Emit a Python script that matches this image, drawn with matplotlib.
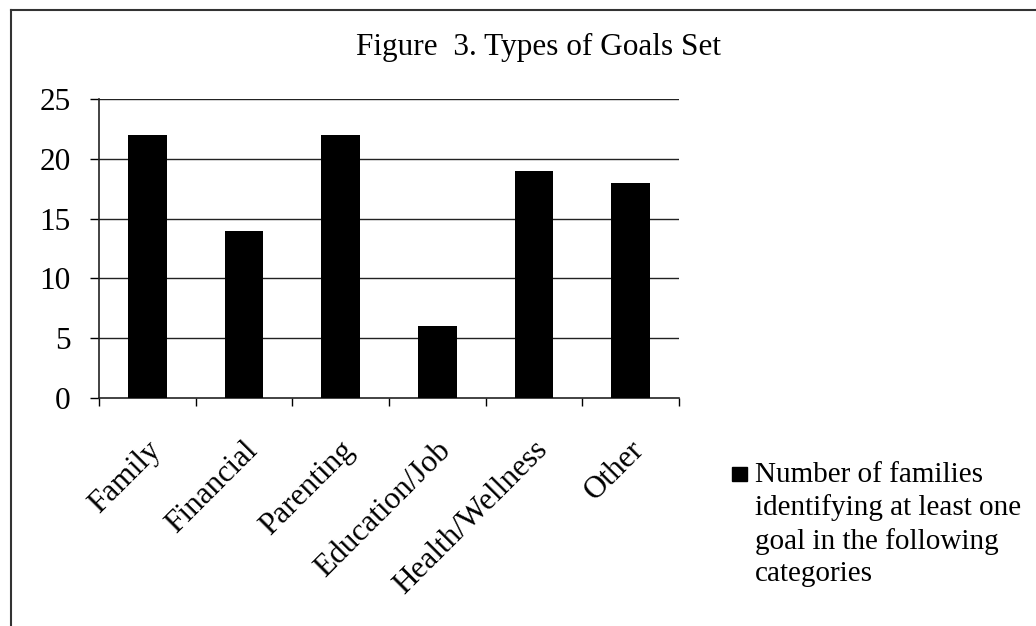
import matplotlib
matplotlib.use('Agg')
import matplotlib.pyplot as plt
from matplotlib.lines import Line2D
from matplotlib.patches import Rectangle

plt.rcParams['font.family'] = ['Liberation Serif', 'DejaVu Serif']

categories = ['Family', 'Financial', 'Parenting', 'Education/Job', 'Health/Wellness', 'Other']
families = [22, 14, 22, 6, 19, 18]
yticks = [0, 5, 10, 15, 20, 25]
legend_text = 'Number of families\nidentifying at least one\ngoal in the following\ncategories'

W, H = 1036, 626
fig = plt.figure(figsize=(W / 100, H / 100), dpi=100)

# outer frame (top and left edges only)
fig.add_artist(Line2D([11 / W, 1], [1 - 10 / H, 1 - 10 / H], color='#333333', lw=1.5))
fig.add_artist(Line2D([11 / W, 11 / W], [0, 1 - 10 / H], color='#333333', lw=1.5))

ax = fig.add_axes([99 / W, 1 - 398 / H, 580 / W, 299 / H])
x = range(len(categories))
ax.bar(x, families, width=0.4, color='black', zorder=3)

ax.set_xlim(-0.5, len(categories) - 0.5)
ax.set_ylim(0, 25)
ax.set_yticks(yticks)
ax.tick_params(axis='y', labelsize=22.5, length=6.5, width=1, direction='out', pad=14)
for y in yticks[1:]:
    ax.axhline(y, color='#222222', lw=1, zorder=1)

ax.set_xticks([i - 0.5 for i in range(len(categories) + 1)])
ax.set_xticklabels([])
ax.tick_params(axis='x', length=6, width=1, direction='out')
for i, c in enumerate(categories):
    ax.annotate(c, xy=(i, 0), xycoords=('data', 'axes fraction'),
                xytext=(-1, -27), textcoords='offset points',
                rotation=45, ha='right', va='top', rotation_mode='anchor',
                fontsize=22.5)

for s in ['top', 'right']:
    ax.spines[s].set_visible(False)
for s in ['left', 'bottom']:
    ax.spines[s].set_color('#222222')
    ax.spines[s].set_linewidth(1.2)

fig.text(538 / W, 1 - 47 / H, 'Figure  3. Types of Goals Set', ha='center', va='center', fontsize=22.5)

# legend
fig.add_artist(Rectangle((732 / W, 1 - 481 / H), 15 / W, 14 / H, color='black'))
fig.text(755 / W, 1 - 462 / H, legend_text, ha='left', va='top', fontsize=21, linespacing=1.3)

fig.savefig('out.png', dpi=100)
